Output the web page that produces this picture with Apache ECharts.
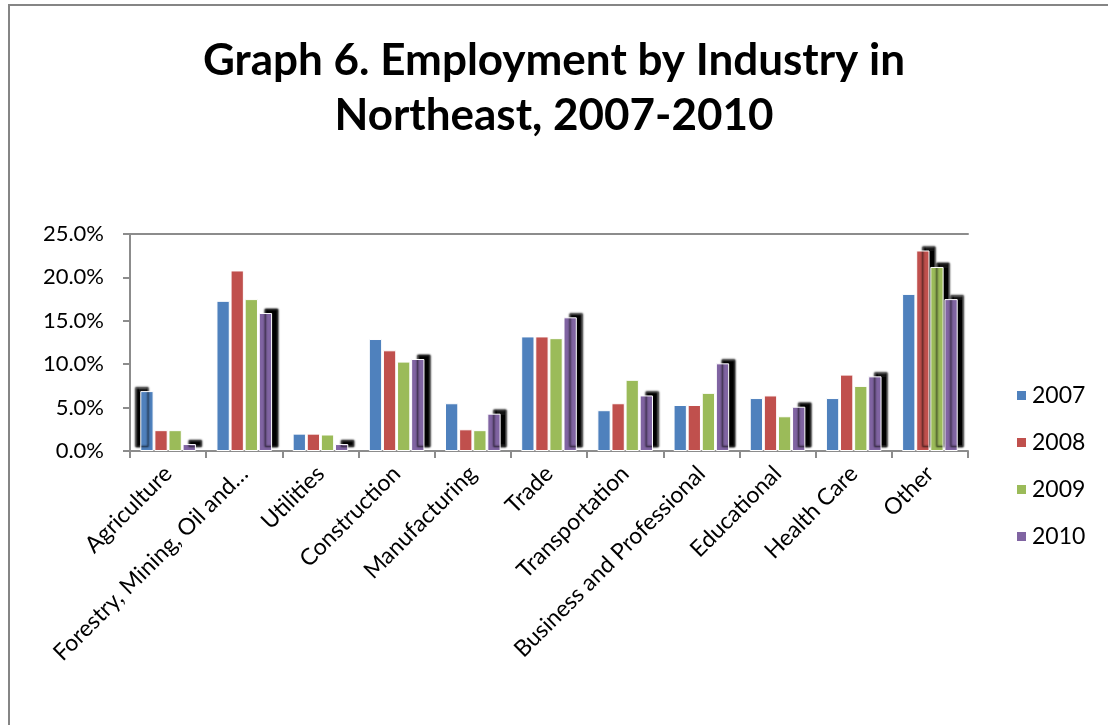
<!DOCTYPE html>
<html>
<head>
<meta charset="utf-8">
<script src="https://cdn.jsdelivr.net/npm/echarts@6/dist/echarts.min.js"></script>
<style>
  html, body { margin: 0; padding: 0; background: #fff; }
  #chart { width: 1108px; height: 725px; }
</style>
</head>
<body>
<div id="chart"></div>
<script>
// Share of employment by industry, Northeast (percent)
const industries = [
  'Agriculture', 'Forestry, Mining, Oil and\u2026', 'Utilities', 'Construction',
  'Manufacturing', 'Trade', 'Transportation', 'Business and Professional',
  'Educational', 'Health Care', 'Other'
];
const years = ['2007', '2008', '2009', '2010'];
const values2007 = [6.9, 17.3, 2.0, 12.9, 5.5, 13.2, 4.7, 5.3, 6.1, 6.1, 18.1];
const values2008 = [2.4, 20.8, 2.0, 11.6, 2.5, 13.2, 5.5, 5.3, 6.4, 8.8, 23.1];
const values2009 = [2.4, 17.5, 1.9, 10.3, 2.4, 13.0, 8.2, 6.7, 4.0, 7.5, 21.2];
const values2010 = [0.8, 15.9, 0.8, 10.6, 4.3, 15.4, 6.4, 10.1, 5.1, 8.6, 17.5];
const yTicks = [0, 5, 10, 15, 20, 25];

const seriesValues = [values2007, values2008, values2009, values2010];
const colors = ['#4F81BD', '#C0504D', '#9BBB59', '#8064A2'];

// dark offset outline drawn behind some bars
const darkShadow = { shadowColor: '#000', shadowBlur: 2, shadowOffsetX: 6, shadowOffsetY: -4 };

function buildData(vals, seriesIdx) {
  return vals.map((v, i) => {
    const item = { value: v };
    if (seriesIdx === 3 || (i === 10 && (seriesIdx === 1 || seriesIdx === 2))) {
      item.itemStyle = Object.assign({}, darkShadow);
    }
    if (i === 0 && seriesIdx === 0) {
      item.itemStyle = { shadowColor: '#000', shadowBlur: 2, shadowOffsetX: -5, shadowOffsetY: -4 };
    }
    return item;
  });
}

const chart = echarts.init(document.getElementById('chart'), null, { renderer: 'canvas' });

const option = {
  backgroundColor: '#fff',
  animation: false,
  title: {
    text: 'Graph 6. Employment by Industry in\nNortheast, 2007-2010',
    left: 'center',
    top: 28,
    textStyle: {
      fontFamily: 'Lato',
      fontWeight: 'bold',
      fontSize: 44,
      lineHeight: 55,
      color: '#000'
    }
  },
  legend: {
    data: years,
    orient: 'vertical',
    left: 1010,
    top: 379,
    icon: 'rect',
    itemWidth: 11,
    itemHeight: 11,
    itemGap: 24,
    textStyle: { fontFamily: 'Lato', fontSize: 23, color: '#000' }
  },
  grid: { left: 130, right: 140, top: 234, bottom: 274, containLabel: false },
  xAxis: [
    {
      type: 'category',
      data: industries,
      axisLine: { lineStyle: { color: '#8c8c8c', width: 2 } },
      axisTick: { show: true, length: 7, lineStyle: { color: '#8c8c8c', width: 2 } },
      axisLabel: {
        rotate: 45,
        interval: 0,
        margin: 19,
        fontFamily: 'Lato',
        fontSize: 23,
        color: '#000'
      }
    },
    {
      type: 'category',
      position: 'top',
      data: industries,
      axisLine: { show: true, lineStyle: { color: '#8c8c8c', width: 2 } },
      axisTick: { show: false },
      axisLabel: { show: false }
    }
  ],
  yAxis: {
    type: 'value',
    min: yTicks[0],
    max: yTicks[yTicks.length - 1],
    interval: 5,
    axisLine: { show: true, lineStyle: { color: '#8c8c8c', width: 2 } },
    axisTick: { show: true, length: 7, lineStyle: { color: '#8c8c8c', width: 2 } },
    splitLine: { show: false },
    axisLabel: {
      margin: 26,
      fontFamily: 'Lato',
      fontSize: 22,
      color: '#000',
      formatter: v => v.toFixed(1) + '%'
    }
  },
  series: years.map((y, s) => ({
    name: y,
    type: 'bar',
    data: buildData(seriesValues[s], s),
    barGap: '6%',
    barCategoryGap: '27%',
    itemStyle: { color: colors[s], borderColor: '#fff', borderWidth: 1 }
  })),
  graphic: [
    { type: 'line', shape: { x1: 9, y1: 5, x2: 9, y2: 725 }, style: { stroke: '#858585', lineWidth: 2 } },
    { type: 'line', shape: { x1: 8, y1: 5, x2: 1108, y2: 5 }, style: { stroke: '#858585', lineWidth: 2 } }
  ]
};

chart.setOption(option);
</script>
</body>
</html>
